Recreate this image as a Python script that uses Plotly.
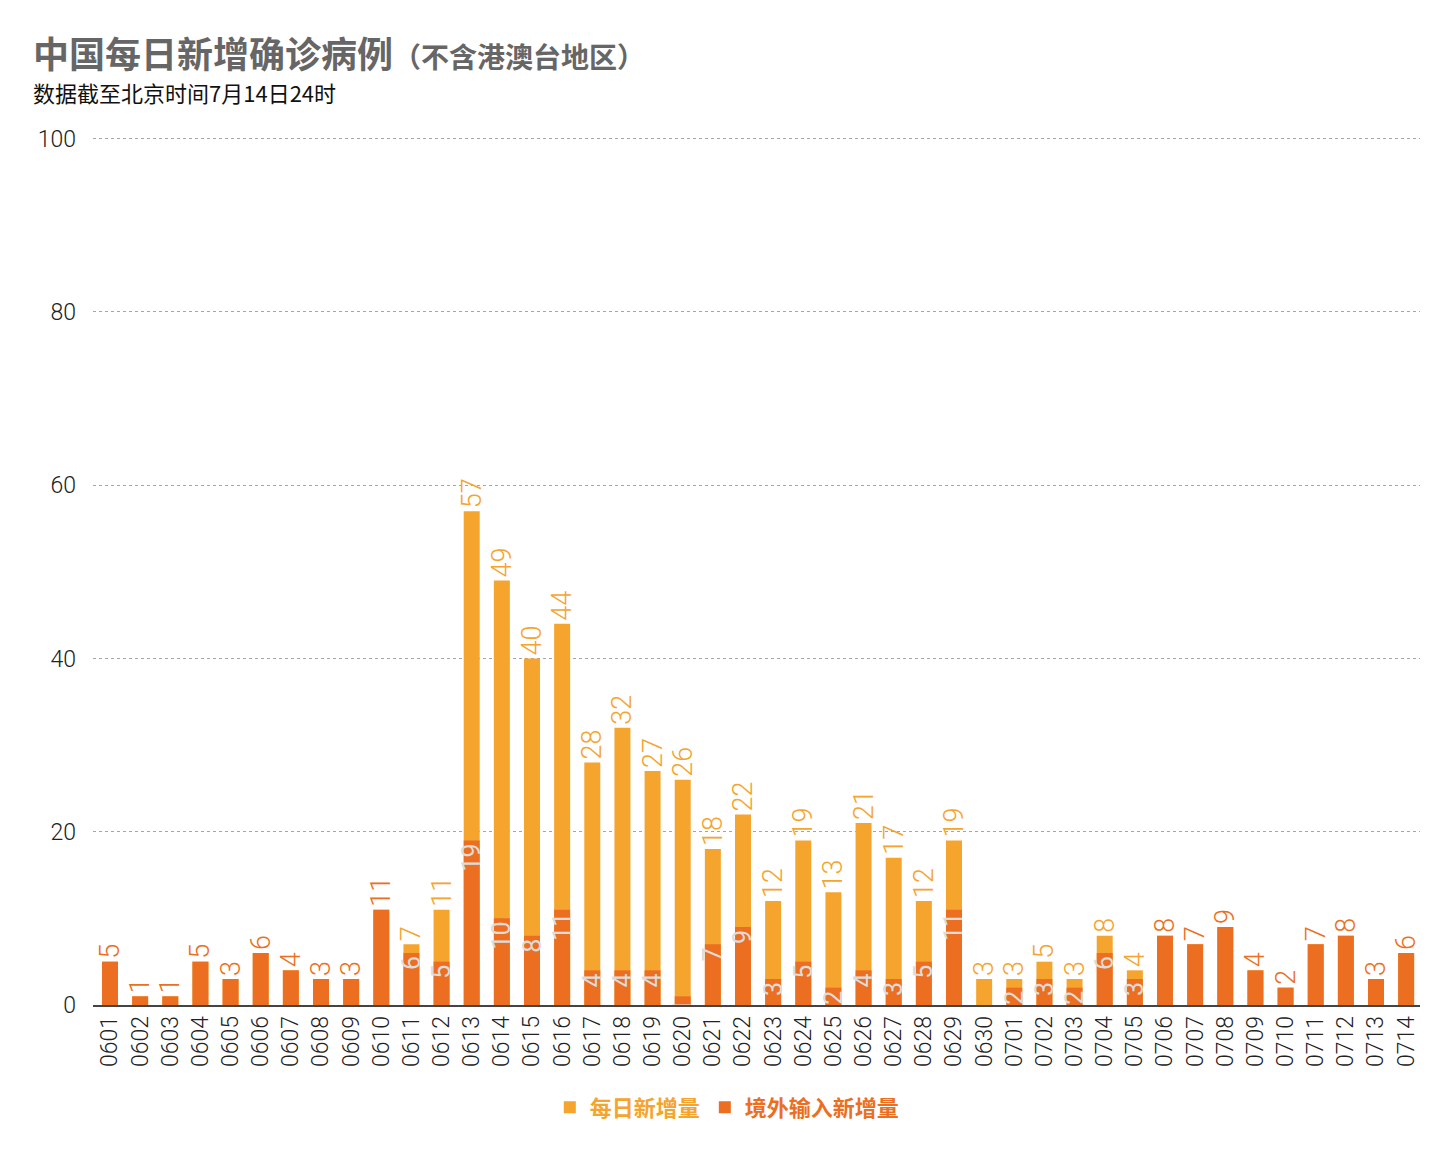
import plotly.graph_objects as go

# 日期（6月1日 - 7月14日）
dates = ["06%02d" % d for d in range(1, 31)] + ["07%02d" % d for d in range(1, 15)]

# 每日新增量（总数）
totals = [5, 1, 1, 5, 3, 6, 4, 3, 3, 11,
          7, 11, 57, 49, 40, 44, 28, 32, 27, 26,
          18, 22, 12, 19, 13, 21, 17, 12, 19, 3,
          3, 5, 3, 8, 4, 8, 7, 9, 4, 2,
          7, 8, 3, 6]

# 境外输入新增量
imported = [5, 1, 1, 5, 3, 6, 4, 3, 3, 11,
            6, 5, 19, 10, 8, 11, 4, 4, 4, 1,
            7, 9, 3, 5, 2, 4, 3, 5, 11, 0,
            2, 3, 2, 6, 3, 8, 7, 9, 4, 2,
            7, 8, 3, 6]

LIGHT = "#F5A42E"
DARK = "#EC6F21"
NUM_FONT = "Roboto, Liberation Sans, sans-serif"
CJK_FONT = "Noto Sans CJK SC"

# 顶部标签：若全部为境外输入，用深色
top_colors = [DARK if i == t else LIGHT for i, t in zip(imported, totals)]
inner_text = [str(i) if 0 < i < t else "" for i, t in zip(imported, totals)]

fig = go.Figure()

fig.add_trace(go.Bar(
    x=dates, y=totals,
    name="<span style='color:%s'>每日新增量</span>" % LIGHT,
    marker=dict(color=LIGHT, line=dict(width=0)),
    text=[str(t) for t in totals],
    textposition="outside",
    textangle=-90,
    textfont=dict(family=NUM_FONT, size=27, color=top_colors, weight=300),
    constraintext="none",
    cliponaxis=False,
))

fig.add_trace(go.Bar(
    x=dates, y=imported,
    name="<span style='color:%s'>境外输入新增量</span>" % DARK,
    marker=dict(color=DARK, line=dict(width=0)),
    text=inner_text,
    textposition="inside",
    insidetextanchor="end",
    textangle=-90,
    textfont=dict(family=NUM_FONT, size=25, color="#DCDCDC", weight=400),
    constraintext="none",
))

fig.update_layout(
    width=1455, height=1152,
    barmode="overlay",
    bargap=0.47,
    plot_bgcolor="white",
    paper_bgcolor="white",
    margin=dict(l=85, r=43, t=128, b=155),
    showlegend=True,
    legend=dict(
        orientation="h",
        x=0.478, xanchor="center",
        y=-0.118, yanchor="middle",
        font=dict(family=CJK_FONT, size=22, weight="bold"),
        tracegroupgap=0,
    ),
    xaxis=dict(
        type="category",
        tickangle=-90,
        tickfont=dict(family=NUM_FONT, size=23, color="#222", weight=300),
        showgrid=False,
        showline=True, linecolor="#444", linewidth=1.5,
        ticks="",
        range=[-0.564, len(dates) - 0.54],
    ),
    yaxis=dict(
        range=[0, 100.3],
        tickvals=[0, 20, 40, 60, 80, 100],
        tickfont=dict(family=NUM_FONT, size=23, color="#222", weight=300),
        showgrid=True, gridcolor="#a5a5a5", griddash="dot", gridwidth=1,
        zeroline=False,
        ticks="", ticklabelstandoff=16,
        fixedrange=True,
    ),
)

fig.add_annotation(
    xref="paper", yref="paper", x=-0.047, y=1.097, xanchor="left", yanchor="middle",
    text="<b>中国每日新增确诊病例</b><span style='font-size:28px'><b>（不含港澳台地区）</b></span>",
    showarrow=False,
    font=dict(family=CJK_FONT, size=36, color="#666666"),
)
fig.add_annotation(
    xref="paper", yref="paper", x=-0.047, y=1.051, xanchor="left", yanchor="middle",
    text="数据截至北京时间7月14日24时",
    showarrow=False,
    font=dict(family=CJK_FONT, size=22, color="#111111"),
)

fig.write_html("out.html")
